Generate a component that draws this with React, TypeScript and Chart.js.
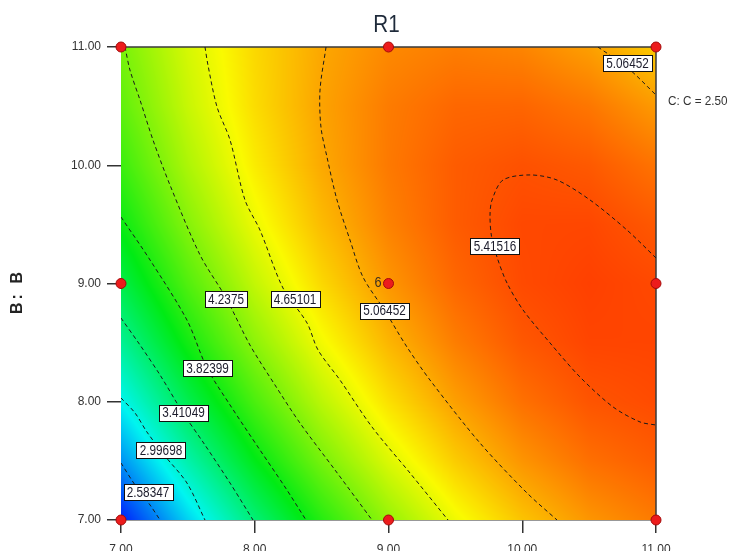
import React, { useEffect, useRef } from 'react';
import { Chart, registerables } from 'chart.js';

Chart.register(...registerables);

// ---------- text ----------
const chartTitle = 'R1';
const yAxisTitle = 'B: B';
const fixedFactorText = 'C: C = 2.50';
const xTickLabels = ['7.00', '8.00', '9.00', '10.00', '11.00'];
const yTickLabels = ['7.00', '8.00', '9.00', '10.00', '11.00'];

// ---------- response surface R1 ----------
// columns: A = 7, 7.5, ... 11 ; one array per B row
const gridA = [7, 7.5, 8, 8.5, 9, 9.5, 10, 10.5, 11];
const gridB = [7, 7.5, 8, 8.5, 9, 9.5, 10, 10.5, 11];
const r1AtB7_0 = [2.204, 2.852, 3.424, 3.919, 4.337, 4.679, 4.944, 5.132, 5.244];
const r1AtB7_5 = [2.619, 3.231, 3.765, 4.224, 4.605, 4.91, 5.138, 5.289, 5.365];
const r1AtB8_0 = [2.988, 3.562, 4.06, 4.481, 4.826, 5.094, 5.285, 5.4, 5.439];
const r1AtB8_5 = [3.31, 3.848, 4.308, 4.693, 5.001, 5.232, 5.387, 5.464, 5.466];
const r1AtB9_0 = [3.586, 4.087, 4.511, 4.859, 5.13, 5.325, 5.442, 5.483, 5.448];
const r1AtB9_5 = [3.816, 4.28, 4.667, 4.978, 5.213, 5.37, 5.451, 5.456, 5.384];
const r1AtB10_0 = [4.0, 4.427, 4.777, 5.052, 5.249, 5.37, 5.414, 5.381, 5.273];
const r1AtB10_5 = [4.137, 4.527, 4.841, 5.078, 5.239, 5.324, 5.33, 5.261, 5.115];
const r1AtB11_0 = [4.228, 4.582, 4.859, 5.059, 5.183, 5.231, 5.201, 5.094, 4.912];
const r1Rows = [r1AtB7_0, r1AtB7_5, r1AtB8_0, r1AtB8_5, r1AtB9_0, r1AtB9_5, r1AtB10_0, r1AtB10_5, r1AtB11_0];

// colour scale (blue -> cyan -> green -> yellow -> red)
const colorStopValues = [2.2, 2.98, 3.78, 4.72, 5.5];
const colorStopRGB = [
  [0, 30, 250],
  [0, 245, 240],
  [0, 235, 20],
  [250, 250, 0],
  [255, 60, 0],
];

// ---------- contour lines (A, B) ----------
const c258A = [7.0, 7.105, 7.217, 7.292];
const c258B = [7.482, 7.296, 7.127, 7.0];
const c300A = [7.0, 7.105, 7.194, 7.329, 7.493, 7.628];
const c300B = [8.032, 7.905, 7.744, 7.541, 7.313, 7.0];
const c341A = [7.0, 7.142, 7.292, 7.464, 7.628, 7.815, 7.987];
const c341B = [8.708, 8.48, 8.226, 7.905, 7.634, 7.313, 7.0];
const c382A = [7.0, 7.217, 7.493, 7.643, 7.815, 8.039, 8.226, 8.383];
const c382B = [9.562, 9.199, 8.691, 8.285, 7.973, 7.592, 7.279, 7.0];
const c424A = [7.03, 7.067, 7.142, 7.239, 7.366, 7.591, 7.785, 7.964, 8.151, 8.338, 8.6, 8.877];
const c424B = [11.0, 10.805, 10.552, 10.214, 9.833, 9.241, 8.878, 8.48, 8.142, 7.82, 7.423, 7.0];
const c465A = [7.628, 7.65, 7.718, 7.815, 7.927, 8.039, 8.211, 8.391, 8.473, 8.637, 8.877, 9.161, 9.445];
const c465B = [11.0, 10.848, 10.493, 10.214, 9.706, 9.452, 8.962, 8.666, 8.438, 8.184, 7.786, 7.397, 7.0];
const c506A = [8.533, 8.488, 8.495, 8.54, 8.615, 8.712, 8.809, 8.974, 9.138, 9.31, 9.684, 10.036, 10.26];
const c506B = [11.0, 10.636, 10.323, 10.07, 9.706, 9.368, 9.055, 8.767, 8.463, 8.184, 7.651, 7.228, 7.0];
const c506cornerA = [10.566, 10.79, 11.0];
const c506cornerB = [11.0, 10.822, 10.594];
const c542A = [11.0, 10.783, 10.507, 10.26, 10.058, 9.856, 9.774, 9.759, 9.77, 9.811, 9.886, 10.006, 10.208, 10.432, 10.679, 10.881, 11.0];
const c542B = [9.216, 9.452, 9.706, 9.875, 9.918, 9.875, 9.706, 9.579, 9.4, 9.224, 9.004, 8.776, 8.497, 8.209, 7.956, 7.829, 7.803];

// contour labels
const contourLabelText = ['2.58347', '2.99698', '3.41049', '3.82399', '4.2375', '4.65101', '5.06452', '5.41516', '5.06452'];
const contourLabelA = [7.202, 7.299, 7.467, 7.647, 7.785, 8.301, 8.97, 9.796, 10.787];
const contourLabelB = [7.233, 7.592, 7.909, 8.285, 8.865, 8.865, 8.771, 9.317, 10.865];

// design points
const designA = [7, 7, 7, 9, 9, 9, 11, 11, 11];
const designB = [7, 9, 11, 7, 9, 11, 7, 9, 11];
const designReplicates = ['', '', '', '', '6', '', '', '', ''];

const FONT = '"Liberation Sans", Arial, sans-serif';

function toPoints(xs: number[], ys: number[]) {
  return xs.map((x, i) => ({ x, y: ys[i] }));
}

function sampleR1(a: number, b: number): number {
  const nA = gridA.length;
  const nB = gridB.length;
  let fx = (a - gridA[0]) / (gridA[1] - gridA[0]);
  let fy = (b - gridB[0]) / (gridB[1] - gridB[0]);
  fx = Math.max(0, Math.min(nA - 1.000001, fx));
  fy = Math.max(0, Math.min(nB - 1.000001, fy));
  const i = Math.floor(fx);
  const j = Math.floor(fy);
  const tx = fx - i;
  const ty = fy - j;
  const v00 = r1Rows[j][i];
  const v10 = r1Rows[j][i + 1];
  const v01 = r1Rows[j + 1][i];
  const v11 = r1Rows[j + 1][i + 1];
  return (v00 * (1 - tx) + v10 * tx) * (1 - ty) + (v01 * (1 - tx) + v11 * tx) * ty;
}

function colorFor(v: number): number[] {
  const s = colorStopValues;
  if (v <= s[0]) return colorStopRGB[0];
  if (v >= s[s.length - 1]) return colorStopRGB[s.length - 1];
  for (let k = 0; k < s.length - 1; k++) {
    if (v <= s[k + 1]) {
      const t = (v - s[k]) / (s[k + 1] - s[k]);
      const c0 = colorStopRGB[k];
      const c1 = colorStopRGB[k + 1];
      return [c0[0] + (c1[0] - c0[0]) * t, c0[1] + (c1[1] - c0[1]) * t, c0[2] + (c1[2] - c0[2]) * t];
    }
  }
  return colorStopRGB[s.length - 1];
}

// draws horizontally condensed text (the reference uses a narrow face)
function narrowText(ctx: CanvasRenderingContext2D, text: string, x: number, y: number, size: number, sx: number, align: CanvasTextAlign) {
  ctx.save();
  ctx.translate(x, y);
  ctx.scale(sx, 1);
  ctx.font = `${size}px ${FONT}`;
  ctx.textAlign = align;
  ctx.fillText(text, 0, 0);
  ctx.restore();
}

const heatmapPlugin = {
  id: 'heatmap',
  beforeDatasetsDraw(chart: any) {
    const { ctx, chartArea: ca, scales } = chart;
    const xs = scales.x;
    const ys = scales.y;
    const left = Math.round(ca.left);
    const top = Math.round(ca.top);
    const w = Math.round(ca.right) - left;
    const h = Math.round(ca.bottom) - top;
    const off = document.createElement('canvas');
    off.width = w;
    off.height = h;
    const octx = off.getContext('2d')!;
    const img = octx.createImageData(w, h);
    const d = img.data;
    for (let j = 0; j < h; j++) {
      const bv = ys.getValueForPixel(top + j + 0.5);
      for (let i = 0; i < w; i++) {
        const av = xs.getValueForPixel(left + i + 0.5);
        const c = colorFor(sampleR1(av, bv));
        const p = (j * w + i) * 4;
        d[p] = c[0];
        d[p + 1] = c[1];
        d[p + 2] = c[2];
        d[p + 3] = 255;
      }
    }
    octx.putImageData(img, 0, 0);
    ctx.save();
    ctx.drawImage(off, left, top);
    ctx.strokeStyle = '#3a3a3a';
    ctx.lineWidth = 1.5;
    ctx.beginPath();
    ctx.moveTo(ca.left, ca.top);
    ctx.lineTo(ca.right, ca.top);
    ctx.lineTo(ca.right, ca.bottom);
    ctx.stroke();
    ctx.restore();
  },
};

const annotationPlugin = {
  id: 'annotations',
  afterDatasetsDraw(chart: any) {
    const { ctx, chartArea: ca, scales } = chart;
    const xs = scales.x;
    const ys = scales.y;
    ctx.save();
    ctx.textBaseline = 'middle';
    // contour labels
    const sx = 0.84;
    contourLabelText.forEach((t, i) => {
      const px = xs.getPixelForValue(contourLabelA[i]);
      const py = ys.getPixelForValue(contourLabelB[i]);
      ctx.font = `14px ${FONT}`;
      const tw = ctx.measureText(t).width * sx;
      const bw = Math.round(tw + 6);
      const bh = 16;
      const bx = Math.round(px - bw / 2) + 0.5;
      const by = Math.round(py - bh / 2) + 0.5;
      ctx.fillStyle = '#ffffff';
      ctx.fillRect(bx, by, bw, bh);
      ctx.strokeStyle = '#111111';
      ctx.lineWidth = 1;
      ctx.strokeRect(bx, by, bw, bh);
      ctx.fillStyle = '#1c1c2c';
      narrowText(ctx, t, px, py + 1, 14, sx, 'center');
    });
    // replicate counts
    ctx.fillStyle = '#3a3020';
    designReplicates.forEach((t, i) => {
      if (!t) return;
      const px = xs.getPixelForValue(designA[i]);
      const py = ys.getPixelForValue(designB[i]);
      narrowText(ctx, t, px - 7, py - 1, 15, 0.85, 'right');
    });
    // title
    ctx.fillStyle = '#1e2a3a';
    narrowText(ctx, chartTitle, (ca.left + ca.right) / 2 - 2, 25, 24, 0.86, 'center');
    // fixed factor text
    ctx.fillStyle = '#333333';
    narrowText(ctx, fixedFactorText, ca.right + 12, 101, 13, 0.9, 'left');
    // y-axis title
    ctx.translate(18, ys.getPixelForValue(9) + 8);
    ctx.rotate(-Math.PI / 2);
    ctx.font = `bold 16px ${FONT}`;
    (ctx as any).letterSpacing = '3px';
    ctx.textAlign = 'center';
    ctx.fillStyle = '#222222';
    ctx.fillText(yAxisTitle, 0, 0);
    ctx.restore();
  },
};

const contourStyle = {
  showLine: true,
  pointRadius: 0,
  borderColor: '#1a1a1a',
  borderWidth: 1,
  borderDash: [4, 3],
  tension: 0.3,
  fill: false,
};

export default function App() {
  const ref = useRef<HTMLCanvasElement>(null);
  useEffect(() => {
    if (!ref.current) return;
    const chart = new Chart(ref.current, {
      type: 'scatter',
      data: {
        datasets: [
          {
            label: 'Design points',
            data: toPoints(designA, designB),
            pointRadius: 5,
            pointBackgroundColor: '#ec1c1c',
            pointBorderColor: '#a40a0a',
            pointBorderWidth: 1,
            showLine: false,
            clip: false,
          } as any,
          { label: '2.58347', data: toPoints(c258A, c258B), ...contourStyle },
          { label: '2.99698', data: toPoints(c300A, c300B), ...contourStyle },
          { label: '3.41049', data: toPoints(c341A, c341B), ...contourStyle },
          { label: '3.82399', data: toPoints(c382A, c382B), ...contourStyle },
          { label: '4.2375', data: toPoints(c424A, c424B), ...contourStyle },
          { label: '4.65101', data: toPoints(c465A, c465B), ...contourStyle },
          { label: '5.06452', data: toPoints(c506A, c506B), ...contourStyle },
          { label: '5.06452 corner', data: toPoints(c506cornerA, c506cornerB), ...contourStyle },
          { label: '5.41516', data: toPoints(c542A, c542B), ...contourStyle },
        ],
      },
      options: {
        responsive: false,
        animation: false,
        layout: { padding: { left: 0, right: 73, top: 47, bottom: 0 } },
        plugins: {
          legend: { display: false },
          tooltip: { enabled: false },
          title: { display: false },
        },
        scales: {
          x: {
            type: 'linear',
            min: 7,
            max: 11,
            ticks: {
              stepSize: 1,
              callback: (_v: any, i: number) => xTickLabels[i],
              font: { family: FONT, size: 12 },
              color: '#333333',
              padding: 9,
              maxRotation: 0,
            },
            grid: { drawOnChartArea: false, drawTicks: true, tickLength: 13, color: '#333333', lineWidth: 1.5 },
            border: { display: true, color: '#333333', width: 1.5 },
            afterFit: (s: any) => {
              s.height = 31;
            },
          },
          y: {
            type: 'linear',
            min: 7,
            max: 11,
            ticks: {
              stepSize: 1,
              callback: (_v: any, i: number) => yTickLabels[i],
              font: { family: FONT, size: 12 },
              color: '#333333',
              padding: 6,
            },
            grid: { drawOnChartArea: false, drawTicks: true, tickLength: 14, color: '#333333', lineWidth: 1.5 },
            border: { display: false },
            afterFit: (s: any) => {
              s.width = 121;
            },
          },
        },
      } as any,
      plugins: [heatmapPlugin, annotationPlugin],
    });
    return () => chart.destroy();
  }, []);
  return (
    <div style={{ position: 'fixed', left: 0, top: 0, width: 729, height: 551, background: '#ffffff' }}>
      <canvas ref={ref} width={729} height={551} style={{ display: 'block' }} />
    </div>
  );
}
